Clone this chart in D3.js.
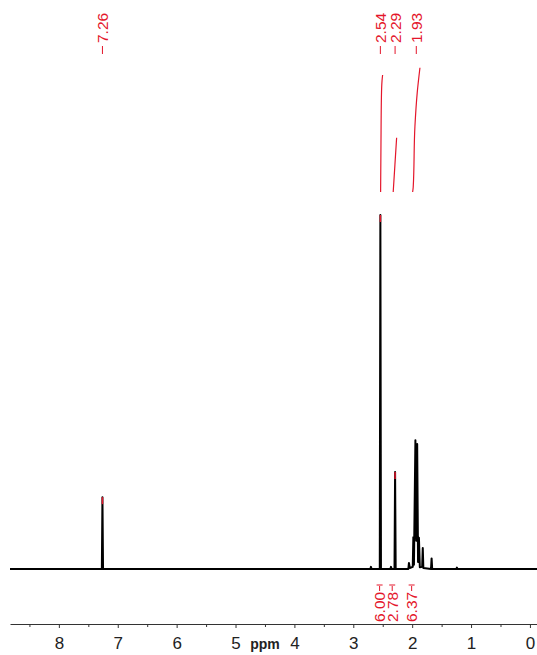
<!DOCTYPE html>
<html>
<head>
<meta charset="utf-8">
<script src="https://cdn.jsdelivr.net/npm/d3@7"></script>
<style>
  body { margin: 0; background: #fff; }
  svg { display: block; font-family: "Liberation Sans", Arial, sans-serif; }
</style>
</head>
<body>
<div id="chart"></div>
<script>
// spectrum vertices: [ppm, intensity (tallest = 100)]
const spectrum = [
  [8.83, 0], [7.27, 0], [7.26, 20.3], [7.25, 0],
  [2.71, 0], [2.70, 0.6], [2.69, 0],
  [2.55, 0], [2.54, 100], [2.53, 0],
  [2.37, 0], [2.36, 0.6], [2.35, 0],
  [2.30, 0], [2.29, 27.4], [2.28, 0],
  [2.065, 0], [2.055, 1.7], [2.04, 0.3], [1.99, 0.6], [1.98, 9.0], [1.97, 1.2],
  [1.945, 36.4], [1.93, 8], [1.915, 35.3], [1.90, 2], [1.885, 8.8],
  [1.87, 0.5], [1.83, 0.6], [1.82, 5.9], [1.81, 0.3], [1.68, 0], [1.67, 3.0], [1.66, 0],
  [1.25, 0], [1.24, 0.4], [1.23, 0], [-0.12, 0]
];

// picked peaks (labels on top) and the peaks with a red marker
const peakLabels = ['7.26', '2.54', '2.29', '1.93'];
const markedPeaks = [[7.26, 20.3], [2.54, 100], [2.29, 27.4]];

// integrals: value + curve points [ppm, fraction of value]
const integralValues = [6.00, 2.78, 6.37];
const integralCurves = [
  [[2.536, 0], [2.530, 0.4], [2.522, 0.82], [2.512, 0.95], [2.502, 1]],
  [[2.322, 0], [2.293, 0.5], [2.264, 1]],
  [[1.992, 0], [1.982, 0.04], [1.953, 0.53], [1.914, 0.80], [1.868, 1]]
];

const majorTicks = [8, 7, 6, 5, 4, 3, 2, 1, 0];
const minorTicks = [8.5, 7.5, 6.5, 5.5, 4.5, 3.5, 2.5, 1.5, 0.5];

const W = 537, H = 655;
const red = '#e4162b';

const svg = d3.select('#chart').append('svg').attr('width', W).attr('height', H);
svg.append('rect').attr('width', W).attr('height', H).attr('fill', '#fff');

const x = d3.scaleLinear().domain([8.83, -0.12]).range([10, 537]);
const y = d3.scaleLinear().domain([0, 100]).range([569, 215]);
const yInt = d3.scaleLinear().domain([0, 6]).range([192, 75]);

// spectrum line
const line = d3.line().x(d => x(d[0])).y(d => y(d[1]));
svg.append('path').attr('d', line(spectrum))
  .attr('fill', 'none').attr('stroke', '#000').attr('stroke-width', 2)
  .attr('stroke-linejoin', 'round');

// red tips on picked peaks
svg.selectAll('line.tip').data(markedPeaks).enter().append('line')
  .attr('class', 'tip')
  .attr('x1', d => x(d[0])).attr('x2', d => x(d[0]))
  .attr('y1', d => y(d[1])).attr('y2', d => y(d[1]) + 7)
  .attr('stroke', red).attr('stroke-width', 1.5);

// peak labels at top
const pl = svg.selectAll('g.plabel').data(peakLabels).enter().append('g')
  .attr('class', 'plabel')
  .attr('transform', d => `translate(${x(+d)},0)`);
pl.append('line').attr('x1', 0).attr('x2', 0).attr('y1', 46).attr('y2', 54)
  .attr('stroke', red).attr('stroke-width', 1);
pl.append('text')
  .attr('transform', 'translate(0,43) rotate(-90)')
  .attr('dominant-baseline', 'central')
  .attr('font-size', 15.5).attr('fill', red)
  .text(d => d);

// integral curves
const intLine = (v) => d3.line().curve(d3.curveMonotoneY)
  .x(d => x(d[0])).y(d => yInt(d[1] * v));
integralCurves.forEach((c, i) => {
  svg.append('path').attr('d', intLine(integralValues[i])(c))
    .attr('fill', 'none').attr('stroke', red).attr('stroke-width', 1.2);
});

// integral labels under the spectrum
const il = svg.selectAll('g.ilabel').data(integralValues).enter().append('g')
  .attr('class', 'ilabel')
  .attr('transform', (d, i) => `translate(${x(integralCurves[i][0][0]) - 1},0)`);
il.append('text')
  .attr('transform', 'translate(0,622) rotate(-90)')
  .attr('dominant-baseline', 'central')
  .attr('font-size', 15.5).attr('fill', red)
  .text(d => d.toFixed(2));
il.append('line').attr('x1', 0).attr('x2', 0).attr('y1', 591).attr('y2', 586)
  .attr('stroke', red).attr('stroke-width', 1);
il.append('line').attr('x1', -3).attr('x2', 3).attr('y1', 585).attr('y2', 585)
  .attr('stroke', red).attr('stroke-width', 1);

// ppm axis
const axisY = 624;
const gAxis = svg.append('g').attr('transform', `translate(0,${axisY})`)
  .call(d3.axisBottom(x).tickValues(majorTicks).tickSize(4).tickSizeOuter(0)
    .tickPadding(9).tickFormat(d3.format('d')));
gAxis.select('.domain').attr('stroke', '#333');
gAxis.selectAll('.tick line').attr('stroke', '#333');
gAxis.selectAll('.tick text').attr('font-size', 17).attr('fill', '#222')
  .attr('font-family', '"Liberation Sans", Arial, sans-serif');

const gMinor = svg.append('g').attr('transform', `translate(0,${axisY})`)
  .call(d3.axisBottom(x).tickValues(minorTicks).tickSize(3).tickFormat(''));
gMinor.select('.domain').remove();
gMinor.selectAll('.tick line').attr('stroke', '#333');

svg.append('text').attr('x', x(4.5)).attr('y', 648.5)
  .attr('text-anchor', 'middle').attr('font-size', 14).attr('font-weight', 'bold')
  .attr('fill', '#222').text('ppm');
</script>
</body>
</html>
